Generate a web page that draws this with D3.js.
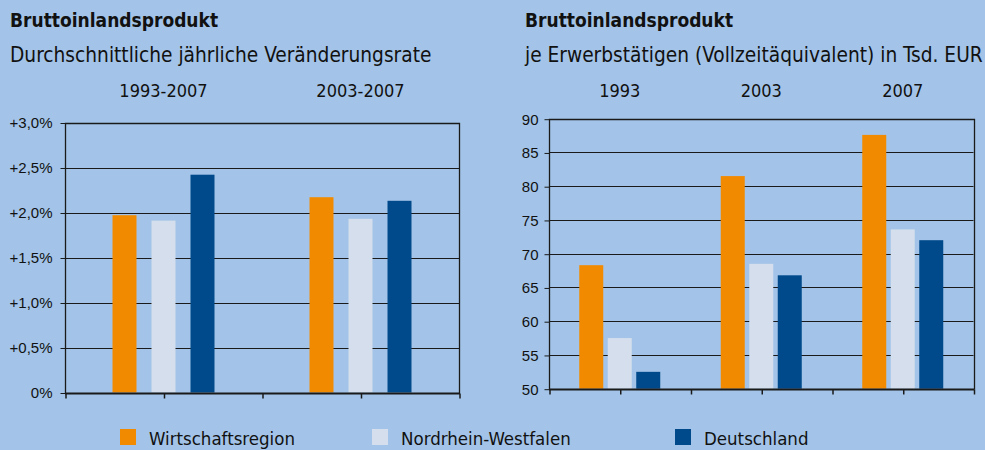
<!DOCTYPE html>
<html>
<head>
<meta charset="utf-8">
<script src="https://cdn.jsdelivr.net/npm/d3@7"></script>
<style>
  body { margin: 0; background: #a3c4e8; }
  svg { display: block; font-family: 'DejaVu Sans Condensed', 'DejaVu Sans', sans-serif; }
  .domain { display: none; }
</style>
</head>
<body>
<div class="graph"></div>
<script>
const series = ['Wirtschaftsregion', 'Nordrhein-Westfalen', 'Deutschland'];
const colors = ['#f28a00', '#d4deec', '#00498a'];

const rateCategories = ['1993-2007', '2003-2007'];
const rateValues = [
  [1.97, 1.91, 2.42],
  [2.17, 1.93, 2.13]
];
const rateTicks = [0, 0.5, 1, 1.5, 2, 2.5, 3];

const gdpCategories = ['1993', '2003', '2007'];
const gdpValues = [
  [68.3, 57.5, 52.5],
  [81.5, 68.5, 66.8],
  [87.6, 73.6, 72.0]
];
const gdpTicks = [50, 55, 60, 65, 70, 75, 80, 85, 90];

const w = 985;
const h = 450;

const svg = d3.select('.graph')
  .append('svg')
  .attr('width', w)
  .attr('height', h);

function drawPanel(opt) {
  const g = svg.append('g');

  const xScale = d3.scaleBand()
    .domain(opt.categories)
    .range([opt.left, opt.right]);
  const yScale = d3.scaleLinear()
    .domain(opt.domain)
    .range([opt.bottom, opt.top]);
  const inner = d3.scaleBand()
    .domain(series)
    .range([0, opt.groupWidth])
    .paddingInner(opt.barPad)
    .paddingOuter(opt.barPad / 2);

  // titles
  g.append('text')
    .attr('x', opt.titleX)
    .attr('y', 27)
    .style('font-weight', 'bold')
    .style('font-size', '19px')
    .attr('fill', '#111')
    .text('Bruttoinlandsprodukt');
  g.append('text')
    .attr('x', opt.titleX)
    .attr('y', 62)
    .style('font-size', '20.7px')
    .attr('fill', '#111')
    .text(opt.subtitle);

  // category labels above
  g.selectAll('.cat')
    .data(opt.categories)
    .enter()
    .append('text')
    .attr('class', 'cat')
    .attr('x', (d) => xScale(d) + xScale.bandwidth() / 2)
    .attr('y', 97)
    .attr('text-anchor', 'middle')
    .style('font-size', '18px')
    .attr('fill', '#111')
    .text((d) => d);

  // gridlines
  g.append('g')
    .selectAll('line')
    .data(opt.ticks)
    .enter()
    .append('line')
    .attr('x1', opt.left)
    .attr('x2', opt.right)
    .attr('y1', (d) => Math.round(yScale(d)) + 0.5)
    .attr('y2', (d) => Math.round(yScale(d)) + 0.5)
    .attr('stroke', '#1a1a1a')
    .attr('stroke-width', 1);

  // bars
  g.append('g')
    .selectAll('g')
    .data(opt.values)
    .enter()
    .append('g')
    .attr('transform', (d, i) => `translate(${xScale(opt.categories[i]) + (xScale.bandwidth() - opt.groupWidth) / 2}, 0)`)
    .selectAll('rect')
    .data((d) => d)
    .enter()
    .append('rect')
    .attr('x', (d, i) => inner(series[i]))
    .attr('y', (d) => yScale(d))
    .attr('width', inner.bandwidth())
    .attr('height', (d) => yScale(opt.domain[0]) - yScale(d))
    .attr('fill', (d, i) => colors[i]);

  // y axis
  g.append('g')
    .attr('transform', `translate(${opt.left + 0.5}, 0.5)`)
    .call(d3.axisLeft(yScale)
      .tickValues(opt.ticks)
      .tickSize(5)
      .tickPadding(opt.tickPad)
      .tickFormat(opt.format))
    .call((s) => s.selectAll('text').style('font-size', '15px').attr('fill', '#111'))
    .call((s) => s.selectAll('line').attr('stroke', '#1a1a1a'));

  // x axis ticks at group edges and centres
  const n = opt.categories.length;
  const xTicks = d3.scaleLinear().domain([0, n]).range([opt.left, opt.right]);
  g.append('g')
    .attr('transform', `translate(0.5, ${Math.round(opt.bottom) + 0.5})`)
    .call(d3.axisBottom(xTicks)
      .tickValues(d3.range(0, n + 0.01, 0.5))
      .tickSize(5)
      .tickFormat(''))
    .call((s) => s.selectAll('line').attr('stroke', '#1a1a1a').attr('stroke-width', 1.5));

  // frame
  g.append('path')
    .attr('d', `M${opt.left + 0.5},${Math.round(opt.bottom) + 0.5}V${Math.round(opt.top) + 0.5}H${Math.round(opt.right) + 0.5}V${Math.round(opt.bottom) + 0.5}`)
    .attr('fill', 'none')
    .attr('stroke', '#1a1a1a')
    .attr('stroke-width', 1.3);
  g.append('line')
    .attr('x1', opt.left)
    .attr('x2', opt.right + 1)
    .attr('y1', Math.round(opt.bottom) + 0.5)
    .attr('y2', Math.round(opt.bottom) + 0.5)
    .attr('stroke', '#1a1a1a')
    .attr('stroke-width', 2);
}

drawPanel({
  categories: rateCategories,
  values: rateValues,
  ticks: rateTicks,
  domain: [0, 3],
  left: 65,
  right: 459,
  top: 122.5,
  bottom: 392.5,
  groupWidth: 117,
  barPad: 0.385,
  tickPad: 8,
  titleX: 10,
  subtitle: 'Durchschnittliche jährliche Veränderungsrate',
  format: (d) => d === 0 ? '0%' : '+' + d3.format('.1f')(d).replace('.', ',') + '%'
});

drawPanel({
  categories: gdpCategories,
  values: gdpValues,
  ticks: gdpTicks,
  domain: [50, 90],
  left: 549,
  right: 973.5,
  top: 118.7,
  bottom: 388.7,
  groupWidth: 85.5,
  barPad: 0.158,
  tickPad: 6,
  titleX: 525,
  subtitle: 'je Erwerbstätigen (Vollzeitäquivalent) in Tsd. EUR',
  format: (d) => d
});

// legend
const legendX = [120, 372, 675];
const legend = svg.append('g').attr('class', 'legend');
legend.selectAll('rect')
  .data(series)
  .enter()
  .append('rect')
  .attr('x', (d, i) => legendX[i])
  .attr('y', 429)
  .attr('width', 16)
  .attr('height', 16)
  .attr('fill', (d, i) => colors[i]);
legend.selectAll('text')
  .data(series)
  .enter()
  .append('text')
  .attr('x', (d, i) => legendX[i] + 29)
  .attr('y', 445)
  .style('font-size', '18.5px')
  .attr('fill', '#111')
  .text((d) => d);
</script>
</body>
</html>
